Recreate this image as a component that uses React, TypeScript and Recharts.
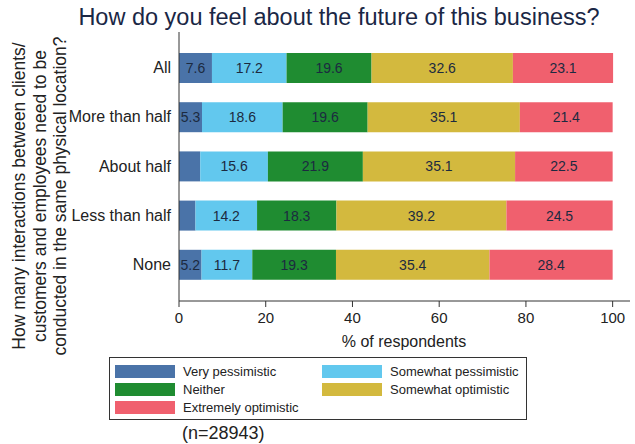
import { BarChart, Bar, XAxis, YAxis, LabelList } from "recharts";

const categories = ["All", "More than half", "About half", "Less than half", "None"];
const veryPessimistic = [7.6, 5.3, 4.9, 3.8, 5.2];
const somewhatPessimistic = [17.2, 18.6, 15.6, 14.2, 11.7];
const neither = [19.6, 19.6, 21.9, 18.3, 19.3];
const somewhatOptimistic = [32.6, 35.1, 35.1, 39.2, 35.4];
const extremelyOptimistic = [23.1, 21.4, 22.5, 24.5, 28.4];
const xTicks = [0, 20, 40, 60, 80, 100];

const series = [
  { key: "vp", name: "Very pessimistic", color: "#4a73a8", values: veryPessimistic },
  { key: "sp", name: "Somewhat pessimistic", color: "#62c8ee", values: somewhatPessimistic },
  { key: "ne", name: "Neither", color: "#1f8c31", values: neither },
  { key: "so", name: "Somewhat optimistic", color: "#d3b93e", values: somewhatOptimistic },
  { key: "eo", name: "Extremely optimistic", color: "#f0606e", values: extremelyOptimistic },
];

const data = categories.map((cat, i) => {
  const row: any = { cat };
  series.forEach((s) => (row[s.key] = s.values[i]));
  return row;
});

const FONT = '"Liberation Sans", Arial, sans-serif';

// legend order as in the reference: two columns, row by row
const legendRows = [
  [series[0], series[1]],
  [series[2], series[3]],
  [series[4]],
];

export default function App() {
  return (
    <div style={{ position: "fixed", left: 0, top: 0, width: 635, height: 444, background: "#fff", fontFamily: FONT, overflow: "hidden" }}>
      <BarChart
        width={635}
        height={444}
        data={data}
        layout="vertical"
        margin={{ top: 32, right: 5, left: 0, bottom: 123 }}
        barCategoryGap={0}
      >
        <XAxis
          type="number"
          domain={[0, 104]}
          ticks={xTicks}
          height={20}
          stroke="#333"
          tickSize={6}
          tickMargin={5}
          tick={{ fontSize: 15, fill: "#222", fontFamily: FONT }}
        />
        <YAxis
          type="category"
          dataKey="cat"
          width={179}
          stroke="#333"
          tickLine={false}
          padding={{ top: 11, bottom: 12 }}
          tick={{ fontSize: 16, fill: "#222", fontFamily: FONT }}
        />
        {series.map((s) => (
          <Bar key={s.key} dataKey={s.key} stackId="a" fill={s.color} barSize={30} isAnimationActive={false}>
            <LabelList
              dataKey={s.key}
              position="center"
              formatter={(v: any) => (Number(v) >= 5 ? Number(v).toFixed(1) : "")}
              style={{ fontSize: 14, fill: "#1c2a40", fontFamily: FONT }}
            />
          </Bar>
        ))}
      </BarChart>

      <svg width={635} height={444} style={{ position: "absolute", left: 0, top: 0, pointerEvents: "none" }}>
        <text x={339} y={25} textAnchor="middle" fontSize={23.5} fill="#1a2745" fontFamily={FONT}>
          How do you feel about the future of this business?
        </text>
        <g transform="translate(0,196) rotate(-90)" fontSize={17.5} fill="#222" fontFamily={FONT} textAnchor="middle">
          <text x={0} y={25}>How many interactions between clients/</text>
          <text x={0} y={45.5}>customers and employees need to be</text>
          <text x={0} y={66}>conducted in the same physical location?</text>
        </g>
        <text x={404} y={347} textAnchor="middle" fontSize={16} fill="#222" fontFamily={FONT}>
          % of respondents
        </text>
        <text x={182} y={439} fontSize={18} fill="#222" fontFamily={FONT}>
          (n=28943)
        </text>
      </svg>

      <div
        style={{
          position: "absolute",
          left: 109,
          top: 357,
          width: 418,
          height: 63,
          boxSizing: "border-box",
          border: "1px solid #333",
          background: "#fff",
        }}
      >
        {legendRows.map((row, r) =>
          row.map((s, c) => (
            <div
              key={s.key}
              style={{ position: "absolute", left: c === 0 ? 5 : 212, top: 6 + r * 18, height: 14, display: "flex", alignItems: "center" }}
            >
              <div style={{ width: 60, height: 13, background: s.color }} />
              <span style={{ marginLeft: 8, fontSize: 13, color: "#222", whiteSpace: "nowrap" }}>{s.name}</span>
            </div>
          ))
        )}
      </div>
    </div>
  );
}
